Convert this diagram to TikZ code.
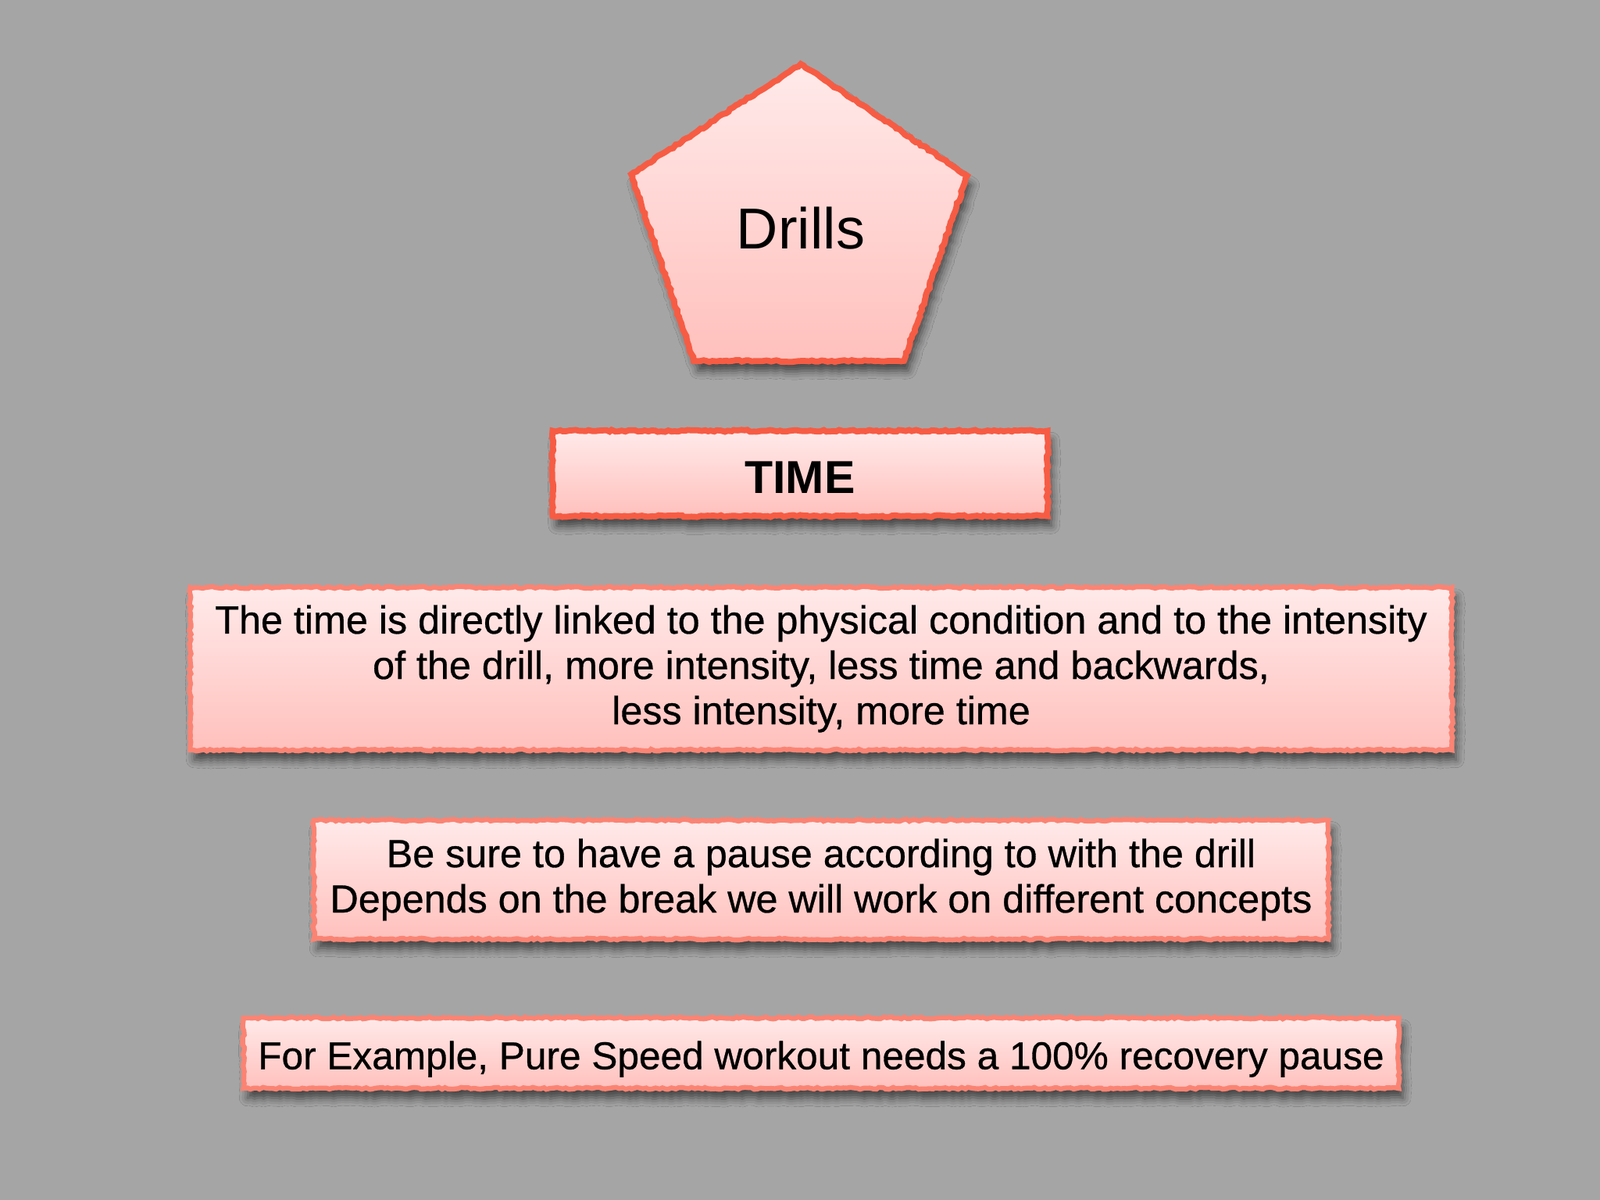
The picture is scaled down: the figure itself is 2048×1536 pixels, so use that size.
\documentclass[tikz,border=0pt]{standalone}
\usepackage{fontspec}
\setmainfont{Liberation Sans}
\newfontfamily\slidefont{Liberation Sans}[FakeBold=0.6]
\usetikzlibrary{shadows.blur,decorations.pathmorphing}

\definecolor{slide}{RGB}{165,165,165}
\definecolor{redline}{RGB}{246,92,68}
\definecolor{salmonline}{RGB}{250,132,116}
\definecolor{pinktop}{RGB}{255,234,234}
\definecolor{pinkbot}{RGB}{255,192,188}

\tikzset{
  rough/.style={decorate,decoration={random steps,segment length=1.2pt,amplitude=0.35pt}},
  card/.style={rectangle,draw=salmonline,line width=1.8pt,rough,
    top color=pinktop,bottom color=pinkbot,
    blur shadow={shadow xshift=1.5pt,shadow yshift=-3.5pt,shadow blur radius=3pt,shadow opacity=60},
    align=center,inner sep=0pt,
    font=\slidefont\fontsize{14.3}{16.5}\selectfont,
    execute at begin node={\rule{0pt}{14.6pt}}},
  headcard/.style={card,draw=redline,line width=2.2pt,execute at begin node={}}
}

\begin{document}
\begin{tikzpicture}[x=0.01cm,y=-0.01cm]
  \useasboundingbox[fill=slide] (0,0) rectangle (2048,1536);

  % pentagon on top
  \draw[headcard] (1025,82) -- (1238,225) -- (1157,462) -- (888,462) -- (808,223) -- cycle;
  \node[anchor=base,font=\fontsize{21}{25}\selectfont] (drills) at (1025,318) {Drills};

  \node[headcard,minimum width=6.33cm,minimum height=1.09cm,
        font=\fontsize{16.8}{20}\selectfont\bfseries] (time) at (1024,606) {TIME};

  \node[card,minimum width=16.14cm,minimum height=2.08cm] (link) at (1051,856)
    {The time is directly linked to the physical condition and to the intensity\\
     of the drill, more intensity, less time and backwards,\\
     less intensity, more time};

  \node[card,minimum width=12.98cm,minimum height=1.52cm] (pause) at (1051,1126)
    {Be sure to have a pause according to with the drill\\
     Depends on the break we will work on different concepts};

  \node[card,minimum width=14.78cm,minimum height=0.90cm,
        font=\slidefont\fontsize{14.1}{16.5}\selectfont] (example) at (1051,1348)
    {For Example, Pure Speed workout needs a 100\% recovery pause};
\end{tikzpicture}
\end{document}
